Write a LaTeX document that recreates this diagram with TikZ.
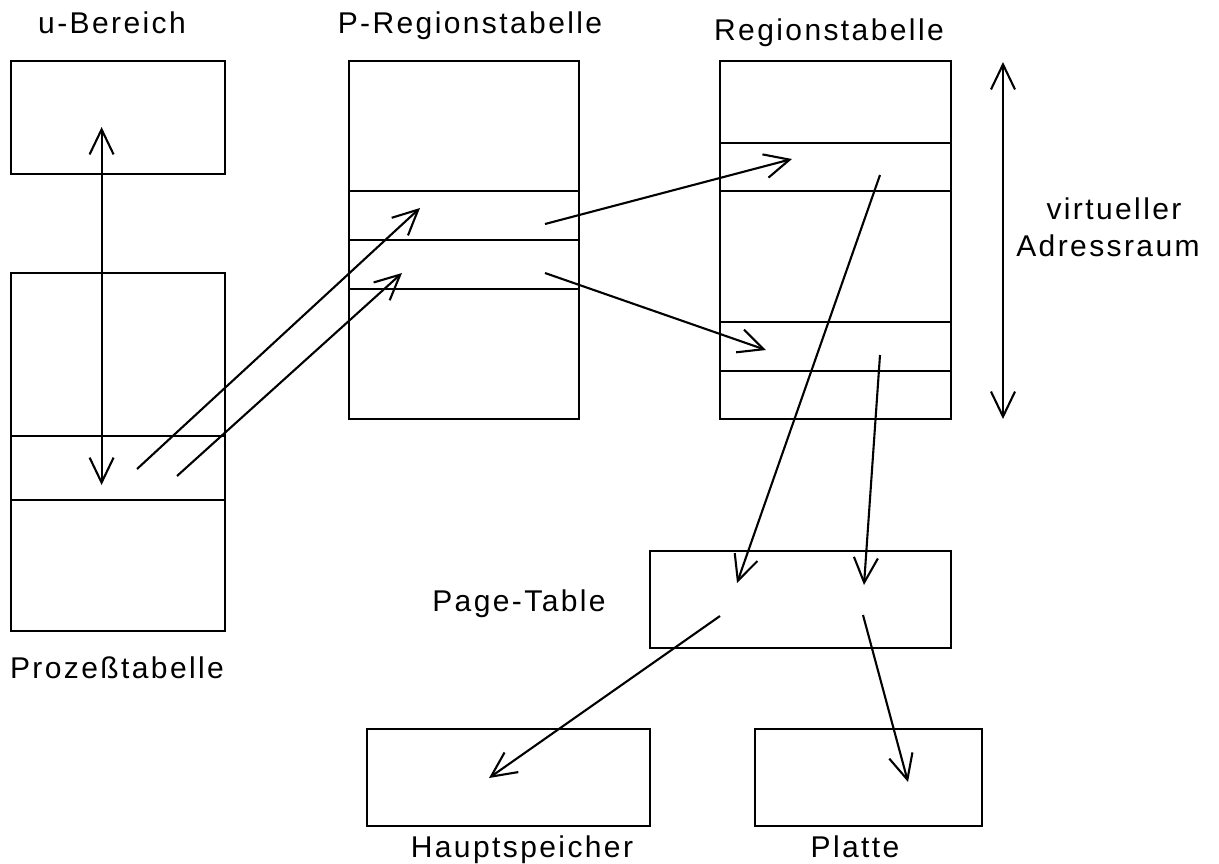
\documentclass[tikz,border=0pt]{standalone}
\usepackage{fontspec}
\setmainfont{Liberation Sans}[LetterSpace=8]
\usetikzlibrary{arrows.meta}
\begin{document}
\begin{tikzpicture}[x=1pt,y=-1pt,
  every node/.style={inner sep=0pt, outer sep=0pt},
  box/.style={draw, line width=2.3pt, rectangle},
  lbl/.style={anchor=base, font=\fontsize{30}{36}\selectfont},
  ptr/.style={line width=2.1pt, -{Straight Barb[length=25pt,width=24pt]}},
  both/.style={line width=2.1pt, {Straight Barb[length=25pt,width=24pt]}-{Straight Barb[length=25pt,width=24pt]}},
  slot/.style={line width=2.3pt}]
\useasboundingbox (0,0) rectangle (1219,863);

% tables and memories
\node[box, minimum width=214pt, minimum height=113pt] (ubox) at (118,117.5) {};
\node[box, minimum width=214pt, minimum height=358pt] (proc) at (118,452) {};
\node[box, minimum width=230pt, minimum height=358pt] (preg) at (464,240) {};
\node[box, minimum width=231pt, minimum height=358pt] (reg) at (835.5,240) {};
\node[box, minimum width=301pt, minimum height=97pt] (page) at (800.5,599.5) {};
\node[box, minimum width=283pt, minimum height=97pt] (haupt) at (508.5,777.5) {};
\node[box, minimum width=227pt, minimum height=97pt] (platte) at (868.5,777.5) {};

% entry separators
\foreach \yy in {436,500} \draw[slot] (proc.west |- 0,\yy) -- (proc.east |- 0,\yy);
\foreach \yy in {191,240,289} \draw[slot] (preg.west |- 0,\yy) -- (preg.east |- 0,\yy);
\foreach \yy in {143,191,322,371} \draw[slot] (reg.west |- 0,\yy) -- (reg.east |- 0,\yy);

% labels
\node[lbl] (tu) at (112,33) {u-Bereich};
\node[lbl] (tp) at (470,33) {P-Regionstabelle};
\node[lbl] (tr) at (829,40) {Regionstabelle};
\node[lbl] (tv1) at (1114,219) {virtueller};
\node[lbl] (tv2) at (1108,256) {Adressraum};
\node[lbl] (tpt) at (519,611) {Page-Table};
\node[lbl] (tproc) at (117,678) {Prozeßtabelle};
\node[lbl] (th) at (522,857) {Hauptspeicher};
\node[lbl] (tpl) at (855,857) {Platte};

% connector end points
\coordinate (uTop) at (101.6,127);
\coordinate (uBot) at (101.6,485);
\coordinate (pa1) at (137,469);
\coordinate (pa2) at (177,476);
\coordinate (pr1) at (420,208);
\coordinate (pr2) at (402,273);
\coordinate (ps1) at (545,224);
\coordinate (ps2) at (545,273);
\coordinate (rt1) at (792,159);
\coordinate (rt2) at (766,350);
\coordinate (rs1) at (880,175);
\coordinate (rs2) at (880,355);
\coordinate (pg1) at (737,583);
\coordinate (pg2) at (864,585);
\coordinate (pgs1) at (720,616);
\coordinate (pgs2) at (863,615);
\coordinate (hm) at (489,778);
\coordinate (pl) at (908,782);
\coordinate (vTop) at (1003,62);
\coordinate (vBot) at (1003,419);

% connectors
\draw[both] (uTop) -- (uBot);
\draw[ptr] (pa1) -- (pr1);
\draw[ptr] (pa2) -- (pr2);
\draw[ptr] (ps1) -- (rt1);
\draw[ptr] (ps2) -- (rt2);
\draw[ptr] (rs1) -- (pg1);
\draw[ptr] (rs2) -- (pg2);
\draw[ptr] (pgs1) -- (hm);
\draw[ptr] (pgs2) -- (pl);
\draw[both] (vTop) -- (vBot);
\end{tikzpicture}
\end{document}
